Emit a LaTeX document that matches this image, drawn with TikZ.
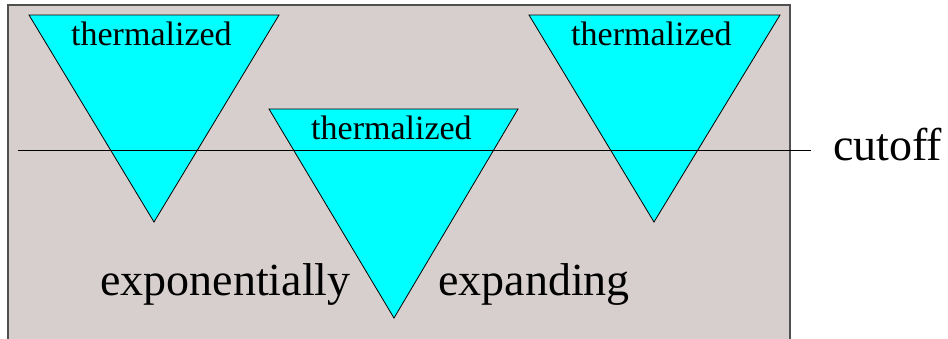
\documentclass[tikz,border=0pt]{standalone}
\usepackage{fontspec}
\setmainfont{Liberation Serif}
\definecolor{bg}{RGB}{214,207,205}
\definecolor{frame}{RGB}{80,80,80}
\definecolor{aqua}{RGB}{0,255,255}
\begin{document}
\begin{tikzpicture}[x=1pt,y=-1pt,
  tri/.style={fill=aqua,draw=black,line width=0.8pt,line join=miter},
  small/.style={inner sep=0pt,anchor=base west,font=\fontsize{34}{40}\selectfont},
  big/.style={inner sep=0pt,anchor=base west,font=\fontsize{46}{54}\selectfont}]
\useasboundingbox (0,0) rectangle (948,338);
\fill[bg,draw=frame,line width=1.2pt] (8,5) rectangle (790,345);
\draw[tri] (29,15) -- (279,15) -- (154,222) -- cycle;
\draw[tri] (269,109) -- (518,109) -- (394,318) -- cycle;
\draw[tri] (529,15) -- (780,15) -- (654,222) -- cycle;
\node[small] (t1) at (71,45) {thermalized};
\node[small] (t2) at (311,139) {thermalized};
\node[small] (t3) at (571,45) {thermalized};
\coordinate (cl) at (18,150);
\coordinate (cr) at (811,150);
\draw[line width=0.8pt] (cl) -- (cr);
\node[big] (cut) at (833,160) {cutoff};
\node[big] (exp) at (100,295) {exponentially};
\node[big] (expd) at (438,295) {expanding};
\end{tikzpicture}
\end{document}
